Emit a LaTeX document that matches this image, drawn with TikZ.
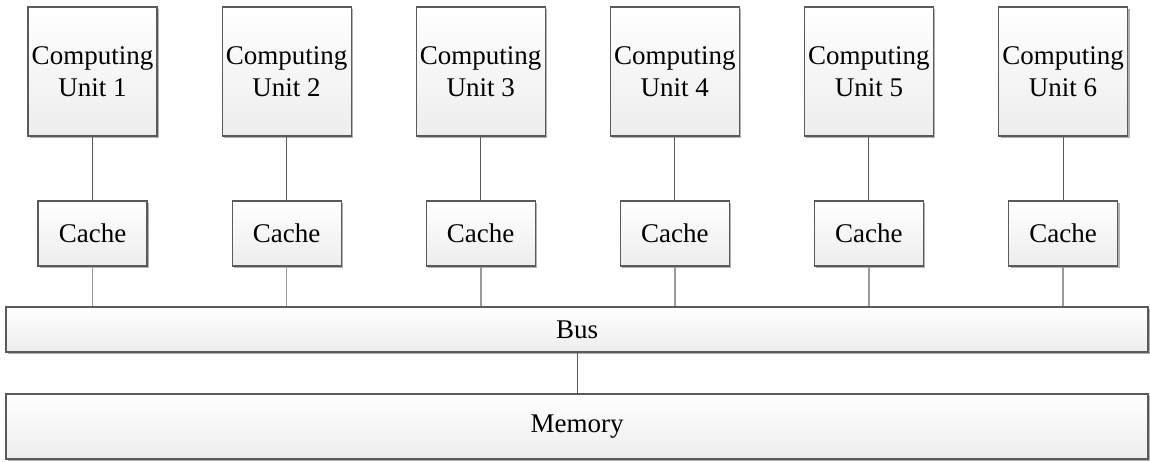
\documentclass[tikz,border=0pt]{standalone}
\usepackage{fontspec}
\setmainfont{Liberation Serif}
\usetikzlibrary{shadows}
\definecolor{edge}{HTML}{5A5A5A}
\definecolor{fillbot}{HTML}{EDEDED}
\tikzset{
  blk/.style={draw=edge, line width=1.2pt, top color=white, bottom color=fillbot,
    drop shadow={shadow xshift=2pt, shadow yshift=-2pt, fill=black!30, opacity=1},
    inner sep=0pt, align=center, font=\fontsize{27}{32}\selectfont},
  cu/.style={blk, minimum width=129pt, minimum height=129pt},
  cache/.style={blk, minimum width=109pt, minimum height=65pt},
  wide/.style={blk, minimum width=1142pt},
  link/.style={draw=edge, line width=1pt},
  buslink/.style={draw=black!40, line width=1.6pt},
}
\begin{document}
\begin{tikzpicture}[x=1pt,y=-1pt]
\useasboundingbox (0,0) rectangle (1150,461);
\foreach \i in {1,...,6} {
  \pgfmathsetmacro{\cx}{92.5+194.1*(\i-1)}
  \node[cu] (cu\i) at (\cx,71.5) {Computing\\Unit \i};
  \node[cache] (ca\i) at (\cx,233.5) {Cache};
}
\node[wide, minimum height=45pt] (bus) at (577,329.5) {Bus};
\node[wide, minimum height=65pt] (mem) at (577,426.5) {Memory};
\foreach \i in {1,...,6} {
  \draw[link] (cu\i) -- (ca\i);
  \draw[buslink] (ca\i.south) -- (ca\i.south |- bus.north);
}
\draw[link] (bus) -- (mem);
\end{tikzpicture}
\end{document}
